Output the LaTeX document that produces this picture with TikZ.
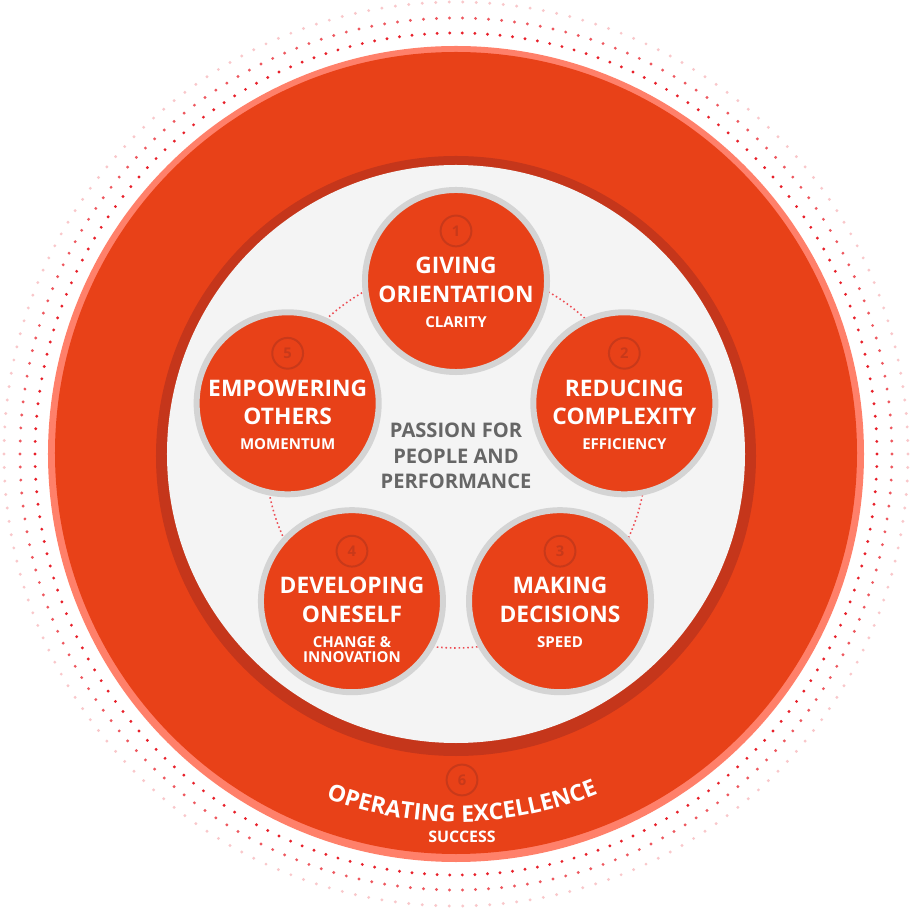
\documentclass[tikz,border=0pt]{standalone}
\usepackage{fontspec}
\setmainfont{Open Sans}
\usetikzlibrary{decorations.text}
\definecolor{brandorange}{HTML}{E84118}
\definecolor{salmon}{HTML}{FF806A}
\definecolor{deeporange}{HTML}{C5361B}
\definecolor{paper}{HTML}{F4F4F4}
\definecolor{rim}{HTML}{D4D4D4}
\definecolor{badgeink}{HTML}{C8391A}
\definecolor{slate}{HTML}{666666}
\definecolor{dotred}{HTML}{E8202A}
\tikzset{
  pillar/.style={circle,fill=brandorange,draw=rim,line width=4.25pt,
    minimum size=4.55cm,inner sep=0pt},
  badge/.style={circle,draw=badgeink,line width=1.4pt,minimum size=.77cm,
    inner sep=0pt,text=badgeink,font=\bfseries\fontsize{10.5}{11}\selectfont},
  headline/.style={anchor=north,align=center,text=white,inner sep=0pt,
    font=\bfseries\fontsize{16.2}{20.2}\selectfont},
  subline/.style={anchor=north,align=center,text=white,inner sep=0pt,
    font=\bfseries\fontsize{10.7}{10.8}\selectfont},
  centretext/.style={anchor=north,align=center,text=slate,inner sep=0pt,
    font=\bfseries\fontsize{14.3}{18}\selectfont},
  ringdot/.style={fill=dotred!#1},
  linkdots/.style={draw=dotred!80,line width=1.1pt,dash pattern=on 1.1pt off 2pt},
}
\begin{document}
\begin{tikzpicture}[x=.025cm,y=.025cm]
\useasboundingbox (-456,-456) rectangle (456,456);
\fill[white] (-456,-456) rectangle (456,456);
% dotted halo
\foreach \r/\s in {421/100,436/75,452/25}
  \foreach \k in {1,...,210}\fill[ringdot=\s] (0,2) ++(\k*12/7:\r) circle[radius=1.6];
% big rings
\fill[salmon] (0,2) circle[radius=408];
\fill[brandorange] (0,3) circle[radius=401];
\fill[deeporange] (0,0) circle[radius=300];
\fill[paper] (0,2) circle[radius=289];
\draw[linkdots] (0,-2) circle[radius=190];
% five pillars
\foreach \n/\ang/\head/\sub in {1/90/{GIVING\\ORIENTATION}/CLARITY,
    2/18/{REDUCING\\COMPLEXITY}/EFFICIENCY,
    3/-54/{MAKING\\DECISIONS}/SPEED,
    4/-126/{DEVELOPING\\ONESELF}/{CHANGE \&\\INNOVATION},
    5/162/{EMPOWERING\\OTHERS}/MOMENTUM}{
  \path (0,-2) ++(\ang:177) node[pillar] (p\n) {};
  \node[badge] (b\n) at ([yshift=1.25cm]p\n.center) {\n};
  \node[headline] (h\n) at ([yshift=.6cm]p\n.center) {\head};
  \node[subline] (s\n) at ([yshift=-.88cm]p\n.center) {\sub};
}
\node[centretext] (core) at (0,33) {PASSION FOR\\PEOPLE AND\\PERFORMANCE};
% outer ring label
\node[badge] (b6) at (6,-324) {6};
\path[decorate,decoration={text along path,text align=center,text color=white,
  text={|\bfseries\fontsize{16.3}{18}\selectfont|OPERATING EXCELLENCE}}]
  (0,2) ++(231:368) arc[start angle=231,end angle=311,radius=368];
\node[subline,anchor=base,font=\bfseries\fontsize{11.3}{12}\selectfont] (succ) at (6,-386) {SUCCESS};
\end{tikzpicture}
\end{document}
